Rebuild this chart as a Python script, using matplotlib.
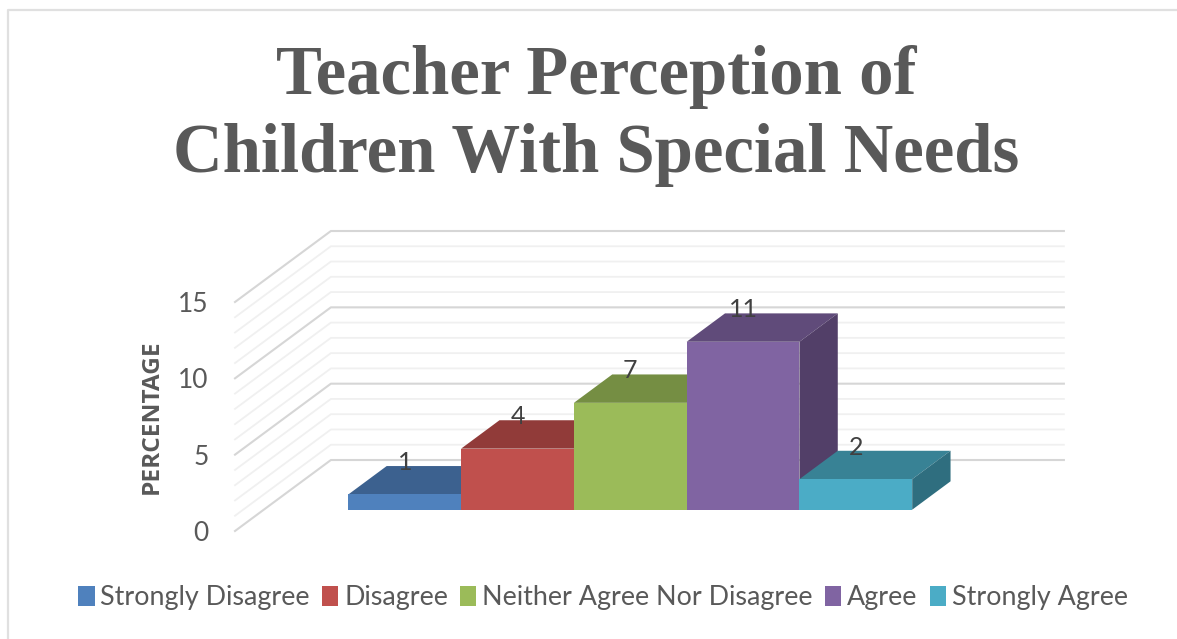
import matplotlib
matplotlib.use('Agg')
import matplotlib.pyplot as plt
from matplotlib.lines import Line2D
from matplotlib.patches import Patch, Polygon

categories = ['Strongly Disagree', 'Disagree', 'Neither Agree Nor Disagree', 'Agree', 'Strongly Agree']
values = [1, 4, 7, 11, 2]
yticks = [0, 5, 10, 15]
front_colors = ['#4F81BD', '#C0504D', '#9BBB59', '#8064A2', '#4BACC6']
top_colors = ['#3C618F', '#913B39', '#758E43', '#604B7A', '#388295']
side_colors = ['#335379', '#7B3230', '#637839', '#523F68', '#2F6E7F']

W, H = 1177, 639

# oblique view: how far the back wall is shifted, in data units
DX = 96 / 112.9
DY = 71 / 15.27
BAR_D0 = 0.3
BAR_D1 = 0.7
GREY = '#595959'


def proj(x, y, d):
    return (x + DX * d, y + DY * d)


plt.rcParams['font.family'] = ['Lato', 'DejaVu Sans']

fig = plt.figure(figsize=(W / 100, H / 100), dpi=100)

# chart border, only top and left show in the crop
fig.add_artist(Line2D([8 / W, 8 / W, 1], [0, 1 - 10 / H, 1 - 10 / H], color='#E0E0E0', lw=1.6))

ax = fig.add_axes([235 / W, 1 - 531 / H, 733 / W, 229 / H])
ax.set_xlim(-0.75, 5.75)
ax.set_ylim(0, 15)
for s in ax.spines.values():
    s.set_visible(False)
ax.set_xticks([])
ax.set_yticks(yticks)
ax.tick_params(axis='y', length=0, pad=19, labelsize=19, labelcolor=GREY)
ax.patch.set_alpha(0)

# walls
xmin, xmax = ax.get_xlim()
for v in range(0, 16):
    major = v % 5 == 0
    col = '#D6D6D6' if major else '#F0F0F0'
    lw = 1.5 if major else 1.3
    pts = [proj(xmin, v, 0), proj(xmin, v, 1), proj(xmax, v, 1)]
    ax.plot([p[0] for p in pts], [p[1] for p in pts], color=col, lw=lw, clip_on=False, zorder=1)

# bars, left to right so each one hides the side of the previous
for i, v in enumerate(values):
    x0, x1 = i, i + 1
    top = Polygon([proj(x0, v, BAR_D0), proj(x1, v, BAR_D0), proj(x1, v, BAR_D1), proj(x0, v, BAR_D1)],
                  fc=top_colors[i], ec='none', clip_on=False, zorder=2 + i)
    side = Polygon([proj(x1, 0, BAR_D0), proj(x1, v, BAR_D0), proj(x1, v, BAR_D1), proj(x1, 0, BAR_D1)],
                   fc=side_colors[i], ec='none', clip_on=False, zorder=2 + i)
    front = Polygon([proj(x0, 0, BAR_D0), proj(x1, 0, BAR_D0), proj(x1, v, BAR_D0), proj(x0, v, BAR_D0)],
                    fc=front_colors[i], ec='none', clip_on=False, zorder=2 + i)
    ax.add_patch(top)
    ax.add_patch(side)
    ax.add_patch(front)
    lx, ly = proj(i + 0.5, v, BAR_D0)
    ax.annotate(str(v), (lx, ly), xytext=(0, 23), textcoords='offset points', ha='center', va='center',
                fontsize=18, color='#404040', zorder=20, annotation_clip=False)

ax.set_ylabel('PERCENTAGE', fontsize=17.6, fontweight='bold', color=GREY, labelpad=10, family='Open Sans')

fig.text(596 / W, 1 - 116 / H, 'Teacher Perception of\nChildren With Special Needs', ha='center', va='center',
         fontsize=49.5, fontweight='bold', color=GREY, family='Liberation Serif', linespacing=1.28)

handles = [Patch(fc=c, ec='none') for c in front_colors]
fig.legend(handles, categories, loc='center', bbox_to_anchor=(603 / W, 1 - 598 / H), ncol=5, frameon=False,
           fontsize=19.4, labelcolor=GREY, handlelength=0.6, handleheight=0.75, handletextpad=0.22, columnspacing=0.45)

fig.savefig('out.png', dpi=100)
